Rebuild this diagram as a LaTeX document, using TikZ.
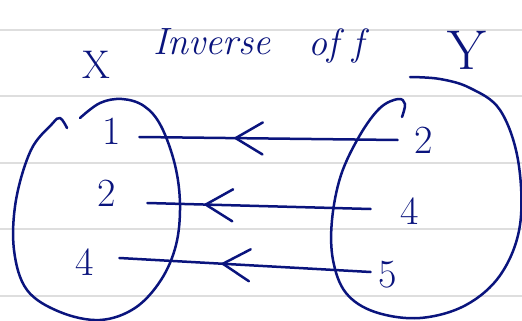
\documentclass[tikz,border=0pt]{standalone}
\usetikzlibrary{decorations.markings}
\definecolor{ink}{RGB}{10,20,125}
\definecolor{paper}{RGB}{222,222,222}
\begin{document}
\begin{tikzpicture}[x=1pt,y=-1pt,
  ruled/.style={paper,line width=1.6pt},
  pen/.style={ink,line width=2.5pt,line cap=round,line join=round},
  num/.style={ink,inner sep=0pt,font=\fontsize{40}{40}\selectfont},
  title/.style={ink,inner sep=0pt,font=\fontsize{38}{38}\selectfont\itshape},
  link/.style={pen,postaction={decorate},decoration={markings,
     mark=at position #1 with {\draw[pen] (-27pt,16pt) -- (0pt,0pt) -- (-27pt,-16pt);}}}
]
\useasboundingbox (0,0) rectangle (522,321);
\fill[white] (0,0) rectangle (522,321);
% ruled paper
\foreach \yy in {30,96,163,229,296} \draw[ruled] (0,\yy) -- (522,\yy);
% titles
\node[title] (t1) at (212,42) {Inverse};
\node[title] (t2) at (336,46) {of f};
\node[ink,inner sep=0pt,font=\fontsize{40}{40}\selectfont] (setx) at (96,65) {X};
\node[ink,inner sep=0pt,font=\fontsize{56}{56}\selectfont] (sety) at (467,50) {Y};
% left set
\draw[pen] plot[smooth,tension=0.6] coordinates {(80,118) (100,103) (122,99) (144,106) (161,126) (175,165) (180,205) (176,245) (161,280) (135,308) (100,320) (60,312) (27,290) (14,250) (16,200) (31,150) (52,124) (60,118) (67,128)};
% right set
\draw[pen] plot[smooth,tension=0.6] coordinates {(402,117) (405,104) (398,99) (380,108) (360,135) (341,175) (332,220) (333,260) (346,293) (375,312) (420,318) (466,305) (501,274) (520,225) (518,160) (500,110) (470,88) (440,79) (410,77)};
% numbers
\node[num] (l1) at (112,131) {1};
\node[num] (l2) at (107,193) {2};
\node[num] (l4) at (85,262) {4};
\node[num] (r2) at (424,140) {2};
\node[num] (r4) at (410,211) {4};
\node[num] (r5) at (388,275) {5};
% arrows (inverse: from Y to X)
\draw[link=162pt] ([xshift=-17pt]r2.west) -- ([xshift=18pt,yshift=-6pt]l1.east);
\draw[link=165pt] ([xshift=-30pt,yshift=2pt]r4.west) -- ([xshift=31pt,yshift=-10pt]l2.east);
\draw[link=148pt] ([xshift=-8pt,yshift=3pt]r5.west) -- ([xshift=25pt,yshift=4pt]l4.east);
\end{tikzpicture}
\end{document}
